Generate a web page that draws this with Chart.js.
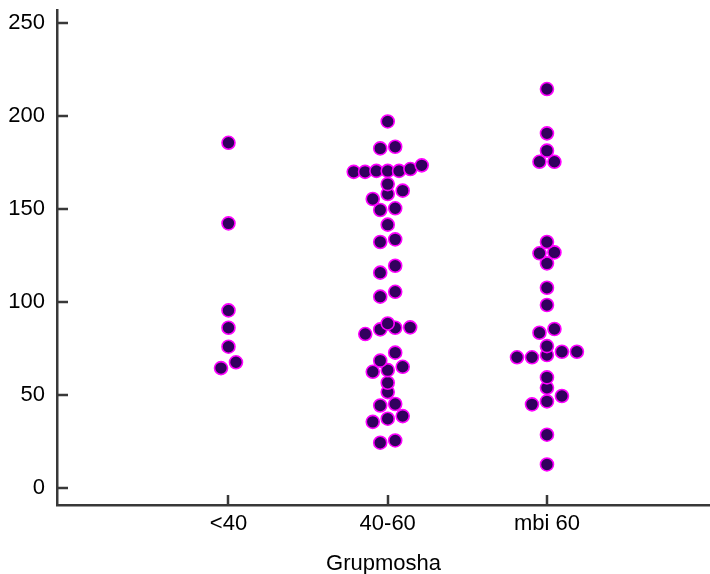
<!DOCTYPE html>
<html><head><meta charset="utf-8">
<script src="https://cdn.jsdelivr.net/npm/chart.js@4"></script>
<style>html,body{margin:0;padding:0;background:#fff}</style>
</head><body>
<canvas id="c" width="710" height="574"></canvas>
<script>
// ---- data ----
const categories = ['<40', '40-60', 'mbi 60'];
const groupUnder40 = [185.6, 142.3, 95.5, 86.2, 76.0, 67.6, 64.5];
const group40to60 = [197.1, 182.6, 183.5, 170, 170, 170.5, 170.5, 170.5, 171.5, 173.5,
  163.4, 158.1, 159.9, 155.4, 149.5, 150.4, 141.6, 132.3, 133.7, 115.8, 119.5,
  102.9, 105.5, 82.8, 85.3, 88.5, 86.2, 86.4, 72.8, 68.5, 62.5, 63.4, 65.2,
  56.6, 51.6, 44.4, 45.2, 35.6, 37.3, 38.7, 24.4, 25.6];
const groupOver60 = [214.5, 190.7, 181.4, 175.4, 175.4, 132.3, 126.2, 126.7, 120.8,
  107.7, 98.4, 83.5, 85.5, 76.3, 71.5, 70.3, 70.3, 73.3, 73.3, 59.5, 53.9, 49.5,
  45.0, 46.6, 28.7, 12.7];
const yTicks = [0, 50, 100, 150, 200, 250];
const xTitle = 'Grupmosha';

// ---- layout (dot-plot spreading) ----
const CLUSTER_SPAN = 4.9;
const DOT_STEP = 0.094;
const MAX_ROW = 0.427;

function swarm(values, center) {
  const s = values.slice().sort((a, b) => a - b);
  const pts = [];
  let i = 0;
  while (i < s.length) {
    let j = i;
    while (j + 1 < s.length && s[j + 1] - s[i] <= CLUSTER_SPAN) j++;
    const n = j - i + 1;
    const step = n > 1 ? Math.min(DOT_STEP, MAX_ROW / (n - 1)) : 0;
    for (let k = 0; k < n; k++) pts.push({x: center + (k - (n - 1) / 2) * step, y: s[i + k]});
    i = j + 1;
  }
  return pts;
}

const groups = [groupUnder40, group40to60, groupOver60];
const FONT = {family: "'Liberation Sans', Arial, sans-serif", size: 22};
const AXIS = '#383838';

const insideTicks = {
  id: 'insideTicks',
  afterDraw(chart) {
    const {ctx, chartArea: a, scales: {x, y}} = chart;
    ctx.save();
    ctx.strokeStyle = AXIS;
    ctx.lineWidth = 2.5;
    ctx.beginPath();
    yTicks.forEach(v => { const py = Math.round(y.getPixelForValue(v)); ctx.moveTo(a.left, py); ctx.lineTo(a.left + 11, py); });
    categories.forEach((c, i) => { const px = Math.round(x.getPixelForValue(i + 1)); ctx.moveTo(px, a.bottom); ctx.lineTo(px, a.bottom - 10); });
    ctx.stroke();
    ctx.restore();
  }
};

new Chart(document.getElementById('c'), {
  type: 'scatter',
  data: {
    datasets: groups.map((g, i) => ({
      label: categories[i],
      data: swarm(g, i + 1),
      pointRadius: 6.5,
      pointBorderWidth: 1.6,
      pointBackgroundColor: '#32005e',
      pointBorderColor: '#ff00ff'
    }))
  },
  options: {
    responsive: false,
    animation: false,
    layout: {autoPadding: false, padding: {top: 10, right: 0, left: 0, bottom: 0}},
    plugins: {legend: {display: false}, tooltip: {enabled: false}},
    scales: {
      x: {
        type: 'linear', min: -0.077, max: 4.024,
        grid: {display: false, drawTicks: false},
        border: {display: true, color: AXIS, width: 2.5},
        afterBuildTicks: s => { s.ticks = categories.map((c, i) => ({value: i + 1})); },
        afterFit: s => { s.height = 69; s.paddingLeft = 0; s.paddingRight = 0; },
        ticks: {font: FONT, color: '#000', padding: 6, maxRotation: 0, autoSkip: false,
          callback: v => categories[Math.round(v) - 1]},
        title: {display: true, text: xTitle, font: FONT, color: '#000', padding: {top: 0, bottom: -3}}
      },
      y: {
        min: -9.1, max: 257,
        grid: {display: false, drawTicks: false},
        border: {display: true, color: AXIS, width: 2.5},
        afterBuildTicks: s => { s.ticks = yTicks.map(v => ({value: v})); },
        afterFit: s => { s.width = 57; s.paddingTop = 0; s.paddingBottom = 0; },
        ticks: {font: FONT, color: '#000', padding: 12}
      }
    }
  },
  plugins: [insideTicks]
});
</script>
</body></html>
